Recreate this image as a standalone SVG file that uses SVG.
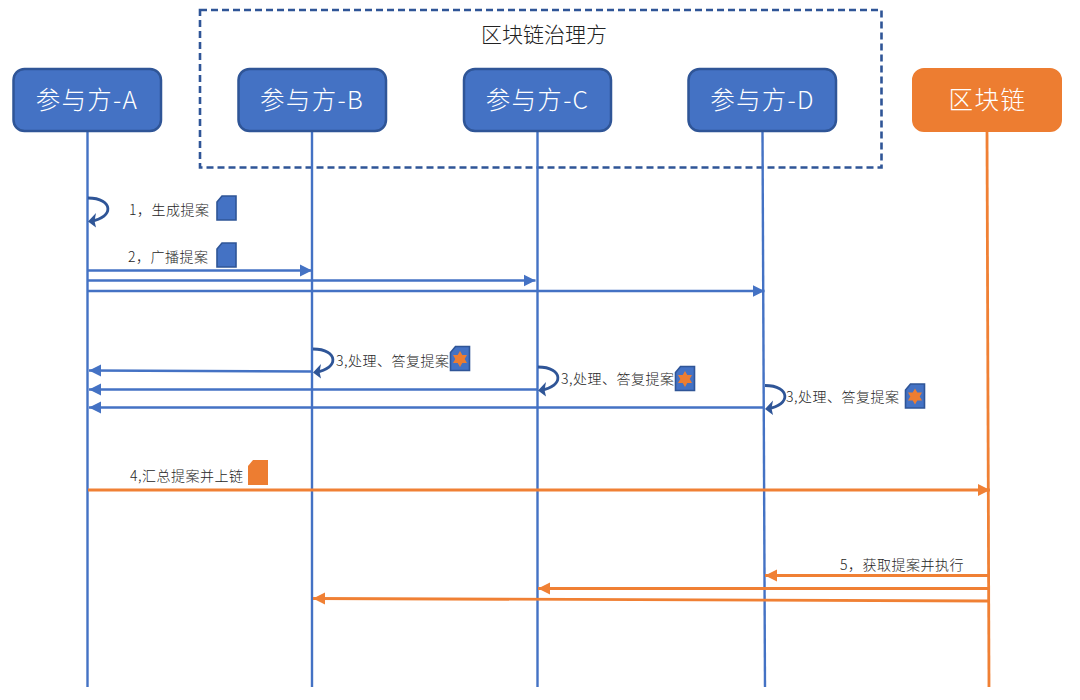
<svg xmlns="http://www.w3.org/2000/svg" width="1080" height="700" viewBox="0 0 1080 700">
<style>
text{font-family:"Noto Sans CJK SC","Liberation Sans",sans-serif}
.n{fill:#4472c4;stroke:#2f5597;stroke-width:2.5}
.o{fill:#ed7d31;stroke:#ed7d31;stroke-width:2}
.t{fill:#fff;font-size:24.500px;text-anchor:middle;font-weight:300;letter-spacing:1.300px}
.l{fill:#262626;font-size:14px;font-weight:300;letter-spacing:.5px}
.b{fill:none;stroke:#4472c4;stroke-width:2.400}
.r{fill:none;stroke:#f08034;stroke-width:2.800}
.s{fill:none;stroke:#2f5597;stroke-width:2.800}
.d{fill:#4472c4;stroke:#2f5597;stroke-width:1.600}
.sr{fill:#ed7d31}
</style>
<defs>
<marker id="ab" markerUnits="userSpaceOnUse" markerWidth="13" markerHeight="13" refX="12" refY="6.500" orient="auto"><path d="M0 0.500L12 6.500L0 12.500Z" fill="#4472c4"/></marker>
<marker id="ao" markerUnits="userSpaceOnUse" markerWidth="13" markerHeight="13" refX="12" refY="6.500" orient="auto"><path d="M0 0.500L12 6.500L0 12.500Z" fill="#f08034"/></marker>
<g id="doc"><path class="d" d="M5 0H19V24H0V6Z"/></g>
<g id="star"><path class="d" d="M5 0H19V24H0V6Z"/><path class="sr" d="M9.500 4.500L11.800 8.500L16.500 8.500L14.200 12.500L16.500 16.500L11.800 16.500L9.500 20.500L7.200 16.500L2.500 16.500L4.800 12.500L2.500 8.500L7.200 8.500Z"/></g>
<g id="loop"><path class="s" d="M0 0C26 0 26 20 3 23"/><path d="M0 23.500L8 15L6.500 23L8 29.500Z" fill="#2f5597"/></g>
</defs>
<g id="governance"><rect x="200" y="10" width="681.500" height="157.500" fill="none" stroke="#2f5597" stroke-width="2.600" stroke-dasharray="7 4"/><text x="544" y="42" font-size="21" text-anchor="middle" fill="#222" font-weight="300">区块链治理方</text></g>
<g id="connectors">
<path class="b" d="M87.500 132V687"/><path class="b" d="M312 132V687"/><path class="b" d="M537.500 132V687"/><path class="b" d="M762.500 132L765 687"/><path class="r" d="M987 132L989 687"/>
<use href="#loop" x="88" y="198"/>
<path class="b" marker-end="url(#ab)" d="M88 270.500H312"/><path class="b" marker-end="url(#ab)" d="M88 280.500H535.500"/><path class="b" marker-end="url(#ab)" d="M88 291H764.500"/>
<use href="#loop" x="313" y="349"/><use href="#loop" x="538" y="367"/><use href="#loop" x="765" y="385.500"/>
<path class="b" marker-end="url(#ab)" d="M312 371.500L89 370.500"/><path class="b" marker-end="url(#ab)" d="M537 389.500H89"/><path class="b" marker-end="url(#ab)" d="M764 407.500H89"/>
<path class="r" marker-end="url(#ao)" d="M88 490H990"/>
<path class="r" marker-end="url(#ao)" d="M988 575.500H765"/><path class="r" marker-end="url(#ao)" d="M988 588.500H538"/><path class="r" marker-end="url(#ao)" d="M988 601L313 598.500"/>
</g>
<g id="a"><rect class="n" x="13.500" y="69" width="147.500" height="62" rx="11"/><text class="t" x="87" y="109">参与方-A</text></g>
<g id="b"><rect class="n" x="238.500" y="69" width="147.500" height="62" rx="11"/><text class="t" x="312" y="109">参与方-B</text></g>
<g id="c"><rect class="n" x="464" y="69" width="147" height="62" rx="11"/><text class="t" x="537.500" y="109">参与方-C</text></g>
<g id="d"><rect class="n" x="688.500" y="69" width="147.500" height="62" rx="11"/><text class="t" x="762.500" y="109">参与方-D</text></g>
<g id="chain"><rect class="o" x="913" y="69" width="148" height="62" rx="11"/><text class="t" x="987.500" y="109" style="letter-spacing:1.500px">区块链</text></g>
<g id="labels">
<text class="l" x="129" y="215">1，生成提案</text><use href="#doc" x="217" y="196"/>
<text class="l" x="128" y="262">2，广播提案</text><use href="#doc" x="217" y="243"/>
<text class="l" x="336" y="366">3,处理、答复提案</text><use href="#star" x="450.500" y="346.500"/>
<text class="l" x="561" y="384">3,处理、答复提案</text><use href="#star" x="675.500" y="366.500"/>
<text class="l" x="786" y="402">3,处理、答复提案</text><use href="#star" x="905.500" y="384"/>
<text class="l" x="130" y="481">4,汇总提案并上链</text><path class="sr" d="M253 460H268V485H248V466Z"/>
<text class="l" x="840" y="570">5，获取提案并执行</text>
</g>
</svg>
